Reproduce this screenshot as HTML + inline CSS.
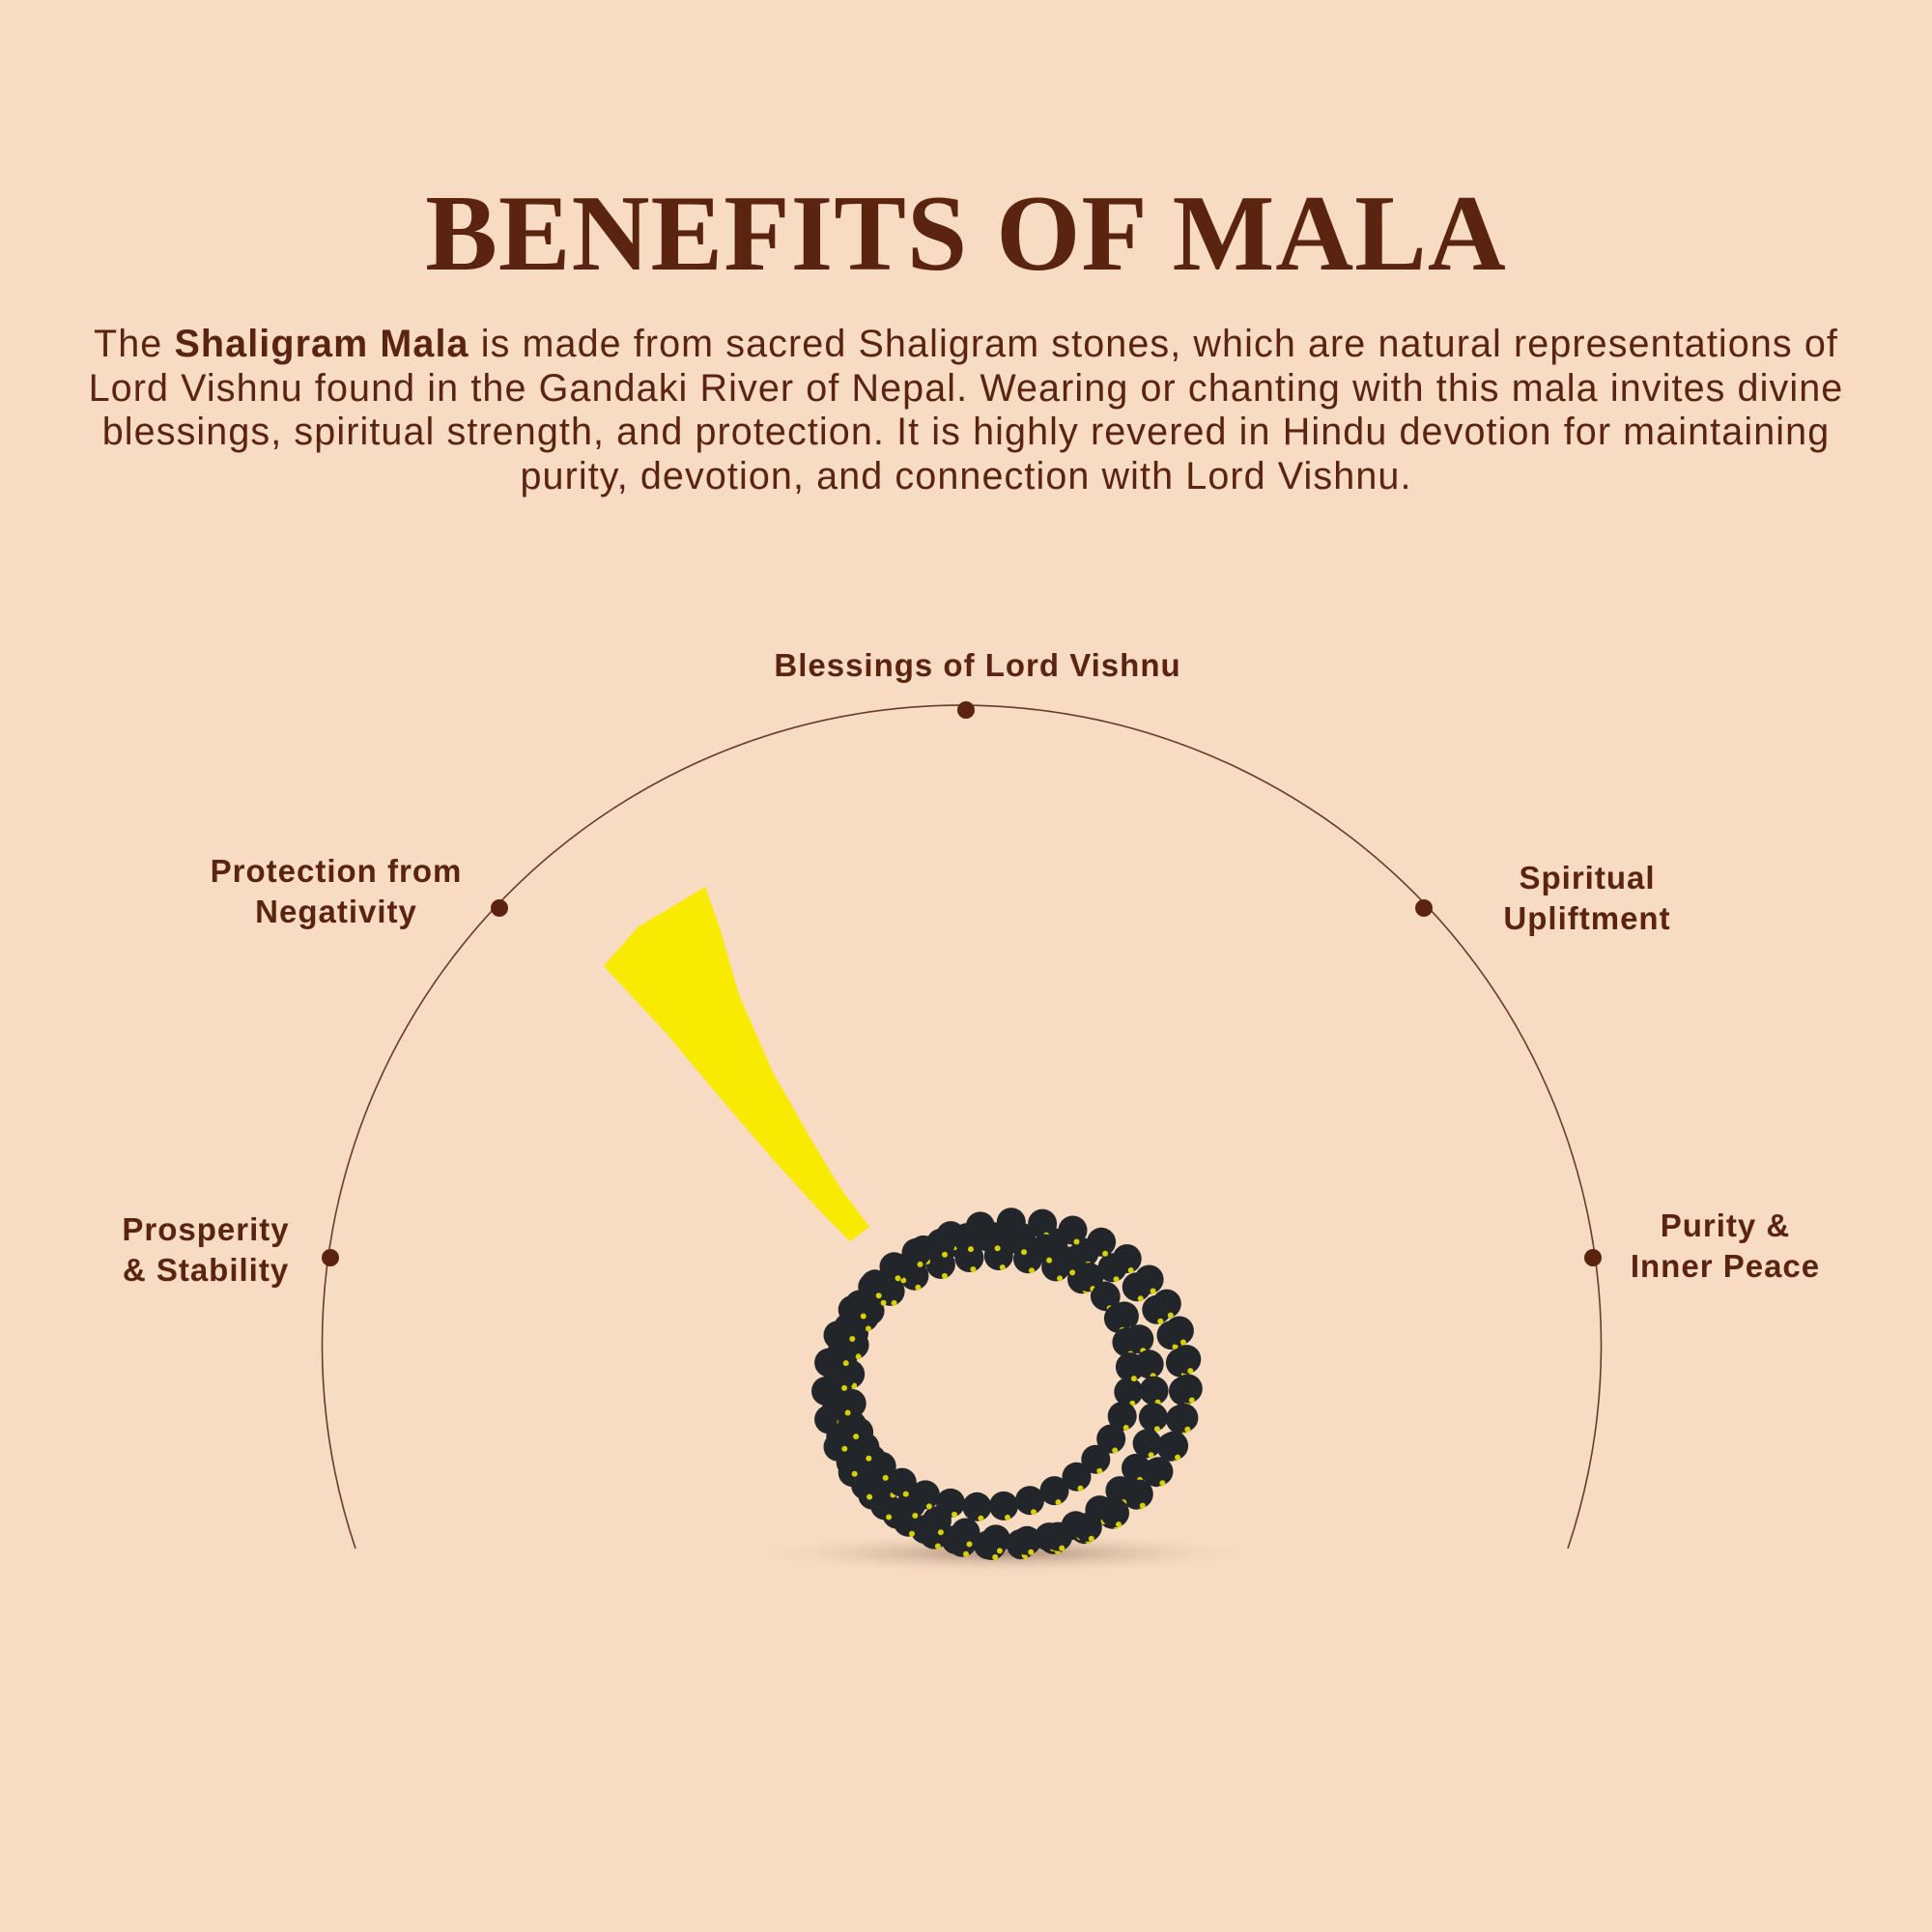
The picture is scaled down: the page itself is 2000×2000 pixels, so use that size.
<!DOCTYPE html>
<html><head><meta charset="utf-8">
<style>
html,body{margin:0;padding:0}
body{width:2000px;height:2000px;background:#f7dbc2;position:relative;overflow:hidden;font-family:"Liberation Sans",sans-serif;color:#5a2410}
h1{position:absolute;top:178px;left:0;width:2000px;text-align:center;margin:0;font-family:"Liberation Serif",serif;font-weight:bold;font-size:112px;letter-spacing:1px;color:#5a2410}
.p{position:absolute;top:334px;left:0;width:2000px;text-align:center;font-size:39.5px;letter-spacing:1.1px;line-height:45.5px;white-space:nowrap}
.l{position:absolute;font-size:33px;font-weight:bold;text-align:center;line-height:42px;letter-spacing:1px;transform:translateX(-50%);white-space:nowrap}
svg{position:absolute;left:0;top:0}
</style></head><body>
<h1>BENEFITS OF MALA</h1>
<div class="p">The <b>Shaligram Mala</b> is made from sacred Shaligram stones, which are natural representations of<br>Lord Vishnu found in the Gandaki River of Nepal. Wearing or chanting with this mala invites divine<br>blessings, spiritual strength, and protection. It is highly revered in Hindu devotion for maintaining<br>purity, devotion, and connection with Lord Vishnu.</div>
<svg width="2000" height="2000" id="s">
<defs><radialGradient id="sh"><stop offset="0" stop-color="#7a5a45" stop-opacity=".6"/><stop offset="1" stop-color="#f7dbc2" stop-opacity="0"/></radialGradient></defs>
<path d="M368 1603 A662 662 0 1 1 1623 1603" fill="none" stroke="#6a3a28" stroke-width="1.6"/>
<g fill="#5a2410">
<circle cx="1000" cy="735" r="9"/><circle cx="517" cy="940" r="9"/><circle cx="1474" cy="940" r="9"/><circle cx="342" cy="1302" r="9"/><circle cx="1649" cy="1302" r="9"/></g>
<ellipse cx="1040" cy="1608" rx="270" ry="22" fill="url(#sh)"/>
<polygon points="625,1000 660,960 730,918 745,960 765,1030 800,1110 840,1180 870,1230 900,1270 880,1285 850,1255 800,1200 740,1130 690,1070" fill="#f8ea00"/>
<g id="b"></g>
</svg>
<div class="l" style="left:1012px;top:668px">Blessings of Lord Vishnu</div>
<div class="l" style="left:348px;top:881px">Protection from<br>Negativity</div>
<div class="l" style="left:1643px;top:888px">Spiritual<br>Upliftment</div>
<div class="l" style="left:213px;top:1252px">Prosperity<br>&amp; Stability</div>
<div class="l" style="left:1786px;top:1248px">Purity &amp;<br>Inner Peace</div>
<script>
var g=document.getElementById('b'),h='';
var rings=[[1040,1440,185,160,0],[1030,1450,165,150,0.3],[1055,1430,175,165,0.6],[1020,1420,150,140,0.15]];
rings.forEach(function(r){for(var i=0;i<34;i++){var a=i/34*2*Math.PI+r[4];var x=r[0]+r[2]*Math.cos(a),y=r[1]+r[3]*Math.sin(a);
h+='<circle cx="'+x.toFixed(1)+'" cy="'+y.toFixed(1)+'" r="15" fill="#22262a"/><circle cx="'+(x+4).toFixed(1)+'" cy="'+(y+12).toFixed(1)+'" r="3" fill="#d8d000"/>';}});
g.innerHTML=h;
</script>
</body></html>
